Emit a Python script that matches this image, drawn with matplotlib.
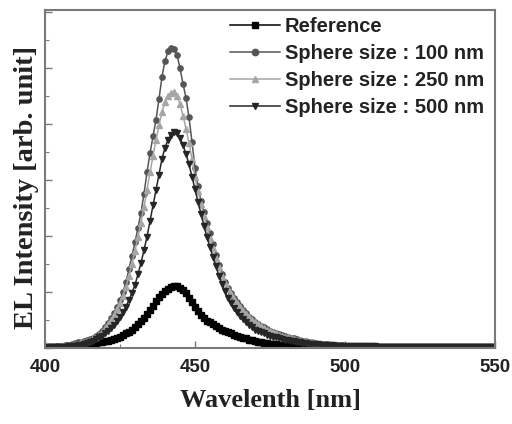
import matplotlib
matplotlib.use("Agg")
import matplotlib.pyplot as plt
import numpy as np
from matplotlib.ticker import MultipleLocator, NullFormatter

# wavelength grid, 1 nm steps
wavelength = np.arange(400, 551)

reference = [
    0.01, 0.01, 0.01, 0.01, 0.02, 0.02, 0.02, 0.03, 0.03, 0.04,
    0.04, 0.05, 0.05, 0.06, 0.07, 0.08, 0.09, 0.09, 0.10, 0.11,
    0.12, 0.13, 0.14, 0.16, 0.18, 0.20, 0.23, 0.26, 0.29, 0.33,
    0.38, 0.43, 0.48, 0.54, 0.61, 0.68, 0.75, 0.84, 0.91, 0.97,
    1.02, 1.06, 1.09, 1.11, 1.10, 1.07, 1.03, 0.98, 0.90, 0.82,
    0.74, 0.66, 0.59, 0.54, 0.49, 0.46, 0.42, 0.39, 0.36, 0.33,
    0.30, 0.28, 0.26, 0.24, 0.22, 0.20, 0.18, 0.17, 0.15, 0.14,
    0.13, 0.11, 0.10, 0.09, 0.09, 0.08, 0.07, 0.07, 0.06, 0.05,
    0.05, 0.05, 0.04, 0.04, 0.04, 0.03, 0.03, 0.03, 0.03, 0.02,
    0.02, 0.02, 0.02, 0.02, 0.02, 0.02, 0.02, 0.02, 0.02, 0.02,
    0.02, 0.02, 0.01, 0.01, 0.01, 0.01, 0.01, 0.01, 0.01, 0.01,
    0.01, 0.01, 0.01, 0.01, 0.01, 0.01, 0.01, 0.01, 0.01, 0.01,
    0.01, 0.01, 0.01, 0.01, 0.01, 0.01, 0.01, 0.01, 0.01, 0.01,
    0.01, 0.01, 0.01, 0.01, 0.01, 0.01, 0.01, 0.01, 0.01, 0.01,
    0.01, 0.01, 0.01, 0.01, 0.01, 0.01, 0.01, 0.01, 0.01, 0.01,
    0.01,
]

sphere_100 = [
    0.01, 0.01, 0.02, 0.02, 0.03, 0.03, 0.04, 0.05, 0.06, 0.07,
    0.09, 0.10, 0.11, 0.13, 0.15, 0.16, 0.18, 0.21, 0.25, 0.30,
    0.37, 0.45, 0.54, 0.63, 0.74, 0.86, 1.00, 1.18, 1.41, 1.65,
    1.89, 2.15, 2.42, 2.76, 3.14, 3.48, 3.78, 4.08, 4.45, 4.85,
    5.13, 5.30, 5.36, 5.34, 5.24, 5.00, 4.72, 4.47, 4.12, 3.68,
    3.22, 2.90, 2.62, 2.43, 2.24, 2.05, 1.86, 1.67, 1.48, 1.32,
    1.18, 1.07, 0.98, 0.90, 0.82, 0.75, 0.68, 0.62, 0.56, 0.51,
    0.47, 0.43, 0.40, 0.37, 0.34, 0.31, 0.29, 0.27, 0.25, 0.23,
    0.21, 0.19, 0.18, 0.17, 0.16, 0.15, 0.13, 0.12, 0.11, 0.10,
    0.09, 0.08, 0.08, 0.07, 0.07, 0.06, 0.06, 0.05, 0.05, 0.05,
    0.04, 0.04, 0.04, 0.04, 0.03, 0.03, 0.03, 0.03, 0.03, 0.03,
    0.03, 0.02, 0.02, 0.02, 0.02, 0.02, 0.02, 0.02, 0.02, 0.02,
    0.02, 0.02, 0.02, 0.02, 0.02, 0.02, 0.02, 0.02, 0.02, 0.02,
    0.02, 0.02, 0.02, 0.01, 0.01, 0.01, 0.01, 0.01, 0.01, 0.01,
    0.01, 0.01, 0.01, 0.01, 0.01, 0.01, 0.01, 0.01, 0.01, 0.01,
    0.01,
]

sphere_250 = [
    0.01, 0.01, 0.01, 0.02, 0.02, 0.03, 0.03, 0.04, 0.05, 0.06,
    0.07, 0.08, 0.10, 0.11, 0.13, 0.15, 0.17, 0.20, 0.24, 0.29,
    0.35, 0.42, 0.50, 0.59, 0.69, 0.80, 0.93, 1.09, 1.29, 1.51,
    1.74, 1.98, 2.24, 2.52, 2.83, 3.14, 3.43, 3.72, 3.98, 4.22,
    4.40, 4.51, 4.56, 4.57, 4.50, 4.36, 4.15, 3.92, 3.66, 3.38,
    3.06, 2.80, 2.57, 2.36, 2.16, 1.97, 1.79, 1.61, 1.44, 1.29,
    1.16, 1.05, 0.96, 0.88, 0.80, 0.73, 0.66, 0.60, 0.55, 0.50,
    0.46, 0.42, 0.39, 0.36, 0.33, 0.30, 0.28, 0.26, 0.24, 0.22,
    0.20, 0.19, 0.17, 0.16, 0.15, 0.14, 0.13, 0.12, 0.11, 0.10,
    0.09, 0.08, 0.07, 0.07, 0.06, 0.06, 0.05, 0.05, 0.05, 0.04,
    0.04, 0.04, 0.04, 0.03, 0.03, 0.03, 0.03, 0.03, 0.03, 0.03,
    0.03, 0.02, 0.02, 0.02, 0.02, 0.02, 0.02, 0.02, 0.02, 0.02,
    0.02, 0.02, 0.02, 0.02, 0.02, 0.02, 0.02, 0.02, 0.02, 0.02,
    0.02, 0.02, 0.01, 0.01, 0.01, 0.01, 0.01, 0.01, 0.01, 0.01,
    0.01, 0.01, 0.01, 0.01, 0.01, 0.01, 0.01, 0.01, 0.01, 0.01,
    0.01,
]

sphere_500 = [
    0.00, 0.01, 0.01, 0.01, 0.01, 0.01, 0.02, 0.02, 0.03, 0.03,
    0.04, 0.05, 0.06, 0.07, 0.09, 0.11, 0.13, 0.16, 0.19, 0.22,
    0.26, 0.30, 0.35, 0.41, 0.48, 0.56, 0.64, 0.74, 0.86, 0.99,
    1.13, 1.32, 1.52, 1.75, 1.99, 2.27, 2.55, 2.82, 3.10, 3.38,
    3.58, 3.72, 3.81, 3.86, 3.85, 3.76, 3.62, 3.47, 3.28, 3.06,
    2.84, 2.61, 2.40, 2.18, 1.98, 1.80, 1.63, 1.46, 1.29, 1.14,
    1.01, 0.90, 0.81, 0.72, 0.64, 0.57, 0.51, 0.46, 0.41, 0.37,
    0.33, 0.30, 0.28, 0.26, 0.24, 0.22, 0.20, 0.19, 0.17, 0.16,
    0.15, 0.14, 0.13, 0.12, 0.11, 0.10, 0.09, 0.09, 0.08, 0.08,
    0.07, 0.07, 0.06, 0.06, 0.05, 0.05, 0.05, 0.04, 0.04, 0.04,
    0.04, 0.03, 0.03, 0.03, 0.03, 0.03, 0.03, 0.03, 0.03, 0.03,
    0.03, 0.02, 0.02, 0.02, 0.02, 0.02, 0.02, 0.02, 0.02, 0.02,
    0.02, 0.02, 0.02, 0.02, 0.02, 0.02, 0.02, 0.02, 0.02, 0.02,
    0.02, 0.01, 0.01, 0.01, 0.01, 0.01, 0.01, 0.01, 0.01, 0.01,
    0.01, 0.01, 0.01, 0.01, 0.01, 0.01, 0.01, 0.01, 0.01, 0.01,
    0.01,
]

labels = ["Reference", "Sphere size : 100 nm", "Sphere size : 250 nm", "Sphere size : 500 nm"]
series = [reference, sphere_100, sphere_250, sphere_500]
markers = ["s", "o", "^", "v"]
colors = ["#000000", "#555555", "#a6a6a6", "#262626"]

SANS = "Liberation Sans"
SERIF = "Liberation Serif"


def main() -> None:
    fig = plt.figure(figsize=(5.12, 4.24), dpi=100)
    ax = fig.add_axes([45 / 512, 1 - 348 / 424, 450 / 512, 338 / 424])

    for vals, lab, mk, col in zip(series, labels, markers, colors):
        ax.plot(wavelength, vals, marker=mk, color=col, markersize=3.8,
                linewidth=1.1, label=lab)

    ax.set_xlim(400, 550)
    ax.set_ylim(0, 6.04)
    ax.xaxis.set_major_locator(MultipleLocator(50))
    ax.xaxis.set_minor_locator(MultipleLocator(25))
    ax.yaxis.set_major_locator(MultipleLocator(1))
    ax.yaxis.set_minor_locator(MultipleLocator(0.5))
    ax.yaxis.set_major_formatter(NullFormatter())
    ax.tick_params(which="both", direction="in", color="#777777")
    ax.tick_params(which="major", length=5, width=1)
    ax.tick_params(which="minor", length=3, width=0.8)
    ax.tick_params(axis="x", pad=8, labelsize=13.5, labelcolor="#222222")
    for lbl in ax.get_xticklabels():
        lbl.set_fontfamily(SANS)
        lbl.set_fontweight("bold")

    for sp in ax.spines.values():
        sp.set_color("#7a7a7a")
        sp.set_linewidth(1.5)

    ax.set_xlabel("Wavelenth [nm]", fontsize=19, fontweight="bold",
                  family=SERIF, color="#222222", labelpad=9)
    ax.set_ylabel("EL Intensity [arb. unit]", fontsize=20.5, fontweight="bold",
                  family=SERIF, color="#222222")
    ax.yaxis.set_label_coords(-0.014, 0.475)

    ax.legend(loc="upper left", bbox_to_anchor=(0.41, 0.98), frameon=False,
              prop={"family": SANS, "weight": "bold", "size": 14.5},
              handlelength=2.5, handletextpad=0.25, labelspacing=0.4,
              borderpad=0, borderaxespad=0, labelcolor="#222222",
              markerscale=1.2)

    fig.savefig("out.png", dpi=100)
    plt.close(fig)


if __name__ == "__main__":
    main()
